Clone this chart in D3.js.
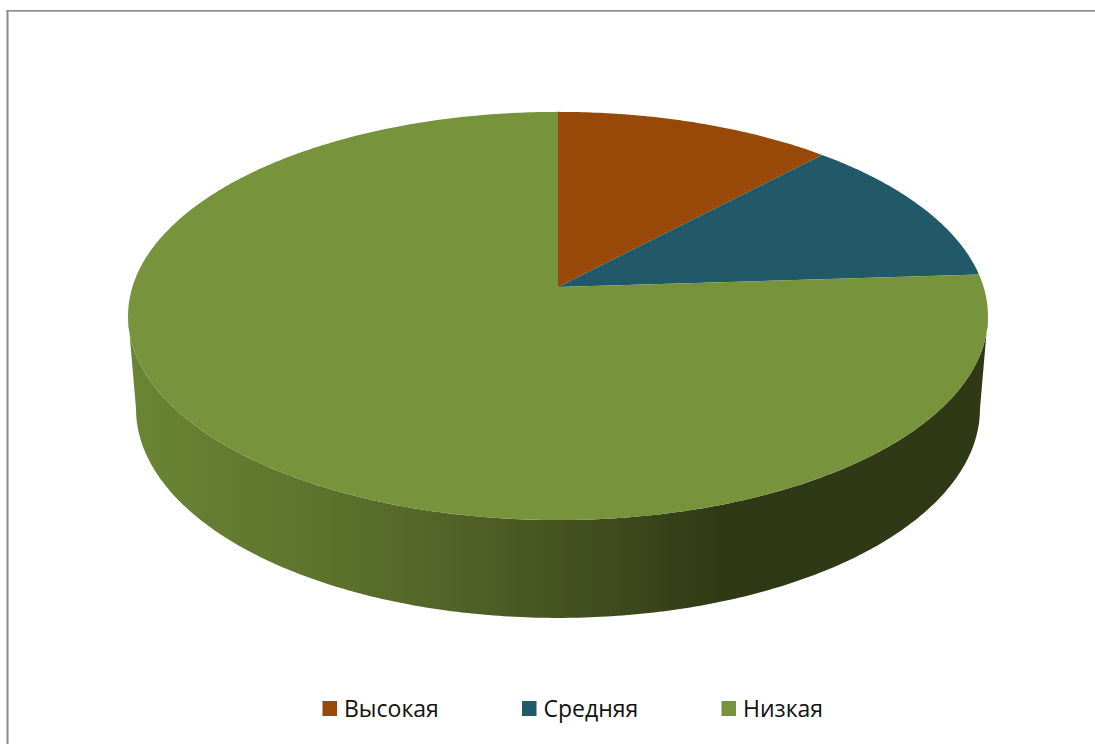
<!DOCTYPE html>
<html lang="ru">
<head>
<meta charset="utf-8">
<style>
  html, body { margin: 0; padding: 0; background: #fff; }
  svg { display: block; }
  text { font-family: "Open Sans", "Noto Sans", sans-serif; fill: #111; }
</style>
<script src="https://cdn.jsdelivr.net/npm/d3@7"></script>
</head>
<body>
<script>
const categories = ["Высокая", "Средняя", "Низкая"];
const seriesValues = [12, 12, 76];
const sliceColors = ["#984807", "#215968", "#77933c"];

const width = 1095, height = 744;
const svg = d3.select("body").append("svg").attr("width", width).attr("height", height);

const color = d3.scaleOrdinal().domain(categories).range(sliceColors);

// Perspective projection of the pie's top and bottom discs onto the screen.
const topDisc = { cx: 558, cy: 287, rx: 425.6, ry: 200, k: 0.142 };
const bottomDisc = { cx: 558, cy: 379, rx: 417.7, ry: 205, k: 0.142 };
const project = (disc, a) => {
  const w = 1 + disc.k * Math.cos(a);
  return [disc.cx + disc.rx * Math.sin(a) / w, disc.cy - disc.ry * Math.cos(a) / w];
};
const arcPoints = (disc, a0, a1) => {
  const n = Math.max(2, Math.ceil(Math.abs(a1 - a0) * 90));
  return d3.range(n + 1).map(i => project(disc, a0 + (a1 - a0) * i / n));
};
const line = d3.line();

// Chart frame: only the top and left edges are visible.
const frame = svg.append("g").attr("fill", "#8c8c8c");
frame.append("rect").attr("x", 6.5).attr("y", 10).attr("width", width).attr("height", 1.7);
frame.append("rect").attr("x", 6.5).attr("y", 10).attr("width", 2).attr("height", height);

// Side wall shading runs left to right and stays dark past the front of the pie.
const defs = svg.append("defs");
const wall = defs.append("linearGradient").attr("id", "wall")
  .attr("gradientUnits", "userSpaceOnUse")
  .attr("x1", 128).attr("x2", 988).attr("y1", 0).attr("y2", 0);
[[0, "#6a8534"], [0.2, "#5f752e"], [0.37, "#526427"], [0.5, "#465320"], [0.69, "#303916"], [1, "#303916"]]
  .forEach(([o, c]) => wall.append("stop").attr("offset", o).attr("stop-color", c));

// Silhouette limits of the visible wall, at the discs' widest points.
const tangent = Math.acos(-topDisc.k);
const wallPoints = [
  ...arcPoints(topDisc, tangent, 2 * Math.PI - tangent),
  ...arcPoints(bottomDisc, 2 * Math.PI - tangent, tangent)
];
svg.append("path").attr("d", line(wallPoints) + "Z").attr("fill", "url(#wall)");

// Top face slices.
const pie = d3.pie().sort(null).value((d, i) => seriesValues[i]);
svg.append("g").selectAll("path")
  .data(pie(categories))
  .join("path")
  .attr("d", d => line([[topDisc.cx, topDisc.cy], ...arcPoints(topDisc, d.startAngle, d.endAngle)]) + "Z")
  .attr("fill", d => color(d.data));

// Legend along the bottom.
const legendX = d3.scalePoint().domain(categories).range([322.5, 721.5]);
const legend = svg.append("g").selectAll("g")
  .data(categories)
  .join("g")
  .attr("transform", d => `translate(${legendX(d)},701)`);
legend.append("rect").attr("width", 14.5).attr("height", 15).attr("fill", d => color(d));
legend.append("text").attr("x", 21.5).attr("y", 15.5).attr("font-size", 23).text(d => d);
</script>
</body>
</html>
